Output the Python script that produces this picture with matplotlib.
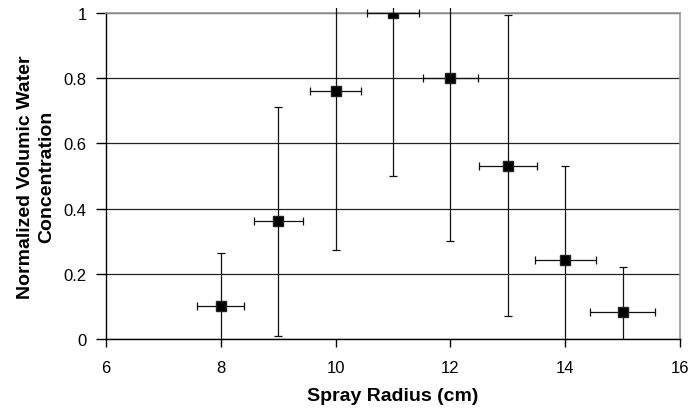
import numpy as np
import matplotlib.pyplot as plt
from matplotlib.patches import Rectangle

plt.rcParams['font.family'] = ['Liberation Sans', 'DejaVu Sans']

# spray radius (cm) and normalized volumic water concentration
radius = [8, 9, 10, 11, 12, 13, 14, 15]
concentration = [0.102, 0.361, 0.760, 1.0, 0.80, 0.532, 0.243, 0.082]
conc_err = [0.161, 0.351, 0.486, 0.50, 0.50, 0.461, 0.287, 0.138]
radius_err = [0.41, 0.43, 0.44, 0.46, 0.48, 0.505, 0.53, 0.56]

fig = plt.figure(figsize=(6.91, 4.14), dpi=100)
ax = fig.add_axes([0.1534, 0.1787, 0.8306, 0.7875])

eb = ax.errorbar(radius, concentration, yerr=conc_err, xerr=radius_err,
                 fmt='s', color='black', ms=7.5, mfc='black', mec='#222222',
                 ecolor='#111111', elinewidth=0.9, capsize=3, capthick=0.9,
                 zorder=3)

# bars are cut off just above the top of the plot area and at zero
clip = Rectangle((0, 0), 1, 1.015, transform=ax.transAxes,
                 facecolor='none', edgecolor='none')
ax.add_patch(clip)
for art in eb.lines[1] + eb.lines[2]:
    art.set_clip_path(clip)
    art.set_clip_on(True)

ax.set_xlim(6, 16)
ax.set_ylim(0, 1)
ax.set_xticks(np.arange(6, 17, 2))
ax.set_yticks([0, 0.2, 0.4, 0.6, 0.8, 1])
ax.set_yticklabels(['0', '0.2', '0.4', '0.6', '0.8', '1'])

ax.set_axisbelow(True)
ax.yaxis.grid(True, color='#222222', lw=0.9)
for side in ['top', 'right']:
    ax.spines[side].set_color('#999999')
    ax.spines[side].set_linewidth(1.2)
for side in ['left', 'bottom']:
    ax.spines[side].set_color('black')
    ax.spines[side].set_linewidth(1.0)

ax.tick_params(direction='out', width=1, labelsize=12)
ax.tick_params(axis='x', length=6, pad=9)
ax.tick_params(axis='y', length=7, pad=7)

ax.set_xlabel('Spray Radius (cm)', fontsize=14, fontweight='bold', labelpad=9)
ax.set_ylabel('Normalized Volumic Water\nConcentration', fontsize=14,
              fontweight='bold', labelpad=6, linespacing=1.3)

fig.savefig('out.png', dpi=100)
